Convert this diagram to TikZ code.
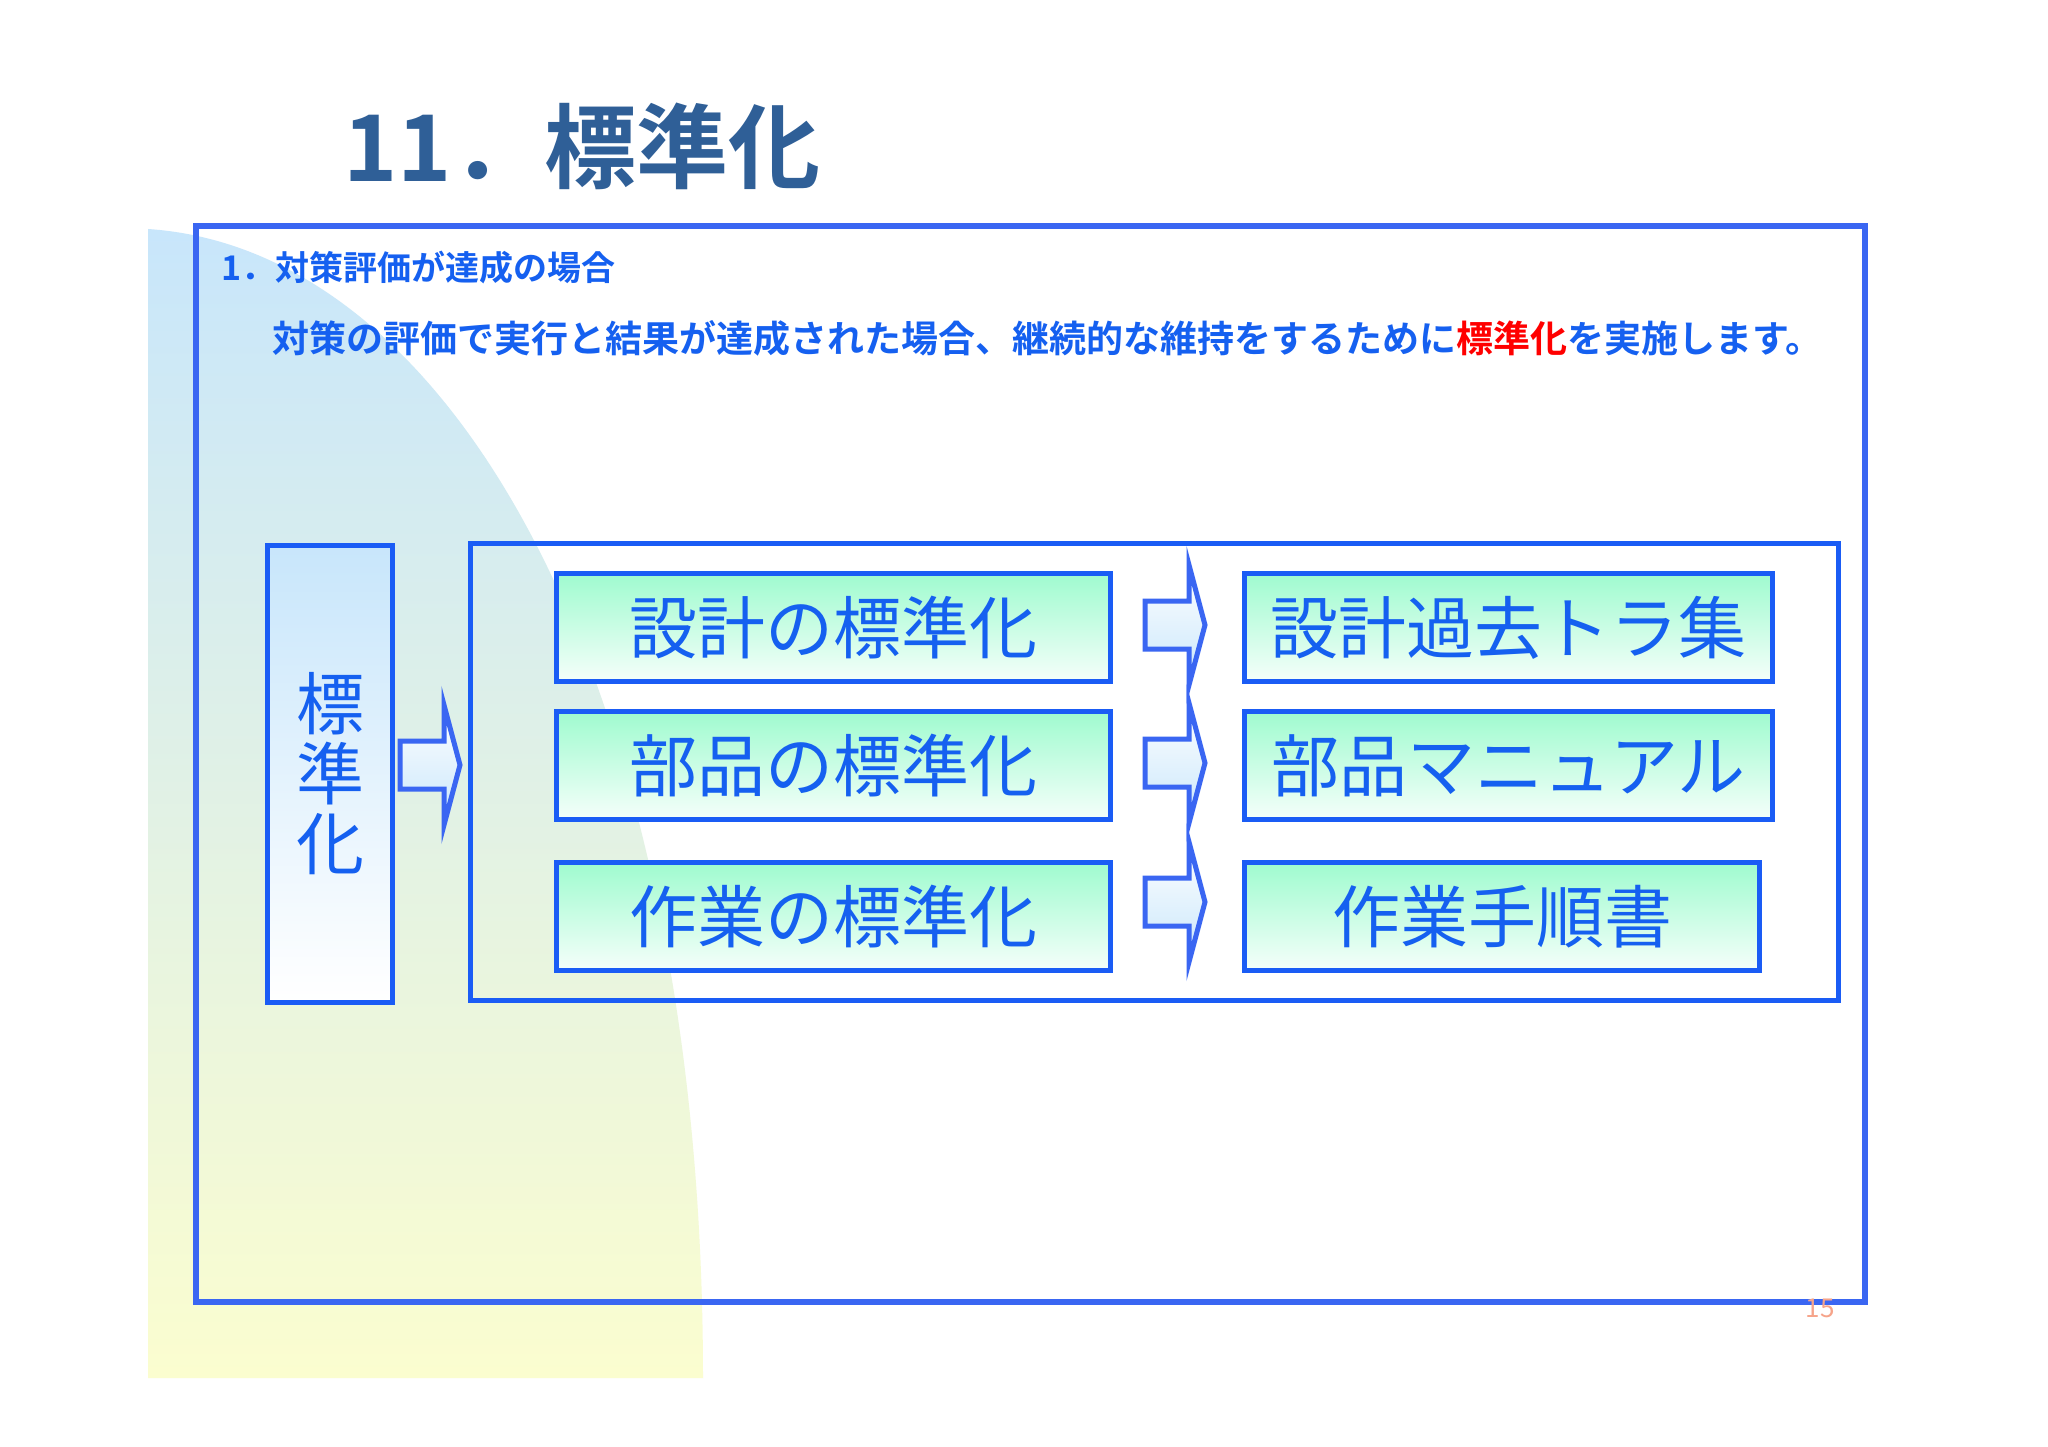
\documentclass[tikz,border=0pt]{standalone}
\usepackage{fontspec}
\setmainfont{Noto Sans CJK JP}
\newfontfamily\jpb{Noto Sans CJK JP Bold}
\newfontfamily\jpr{Noto Sans CJK JP}
\definecolor{titlec}{HTML}{2F5F97}
\definecolor{framec}{HTML}{3A66F2}
\definecolor{boxc}{HTML}{1A5CF5}
\definecolor{txtc}{HTML}{1560F0}
\definecolor{bgblue}{HTML}{C8E6FB}
\definecolor{bgyel}{HTML}{FBFDCF}
\definecolor{mint}{HTML}{9FFBCF}
\definecolor{pgc}{HTML}{F6A48A}
\tikzset{
  stdbox/.style={draw=boxc,line width=5pt,top color=mint,bottom color=white!90!mint,inner sep=0pt,anchor=north west},
  stdtxt/.style={font=\jpr\fontsize{68}{68}\selectfont,text=txtc},
  barrow/.style={draw=framec,line width=5pt,top color=white,bottom color=bgblue,line join=miter}
}
\newcommand{\blockarrow}[3]{% x, yc, name
  \draw[barrow] (#1,#2-24) -- (#1+44,#2-24) -- (#1+44,#2-60) -- (#1+60,#2) -- (#1+44,#2+60) -- (#1+44,#2+24) -- (#1,#2+24) -- cycle;
}
\begin{document}
\begin{tikzpicture}[x=1pt,y=-1pt]
\useasboundingbox (0,0) rectangle (2048,1447);
\fill[white] (0,0) rectangle (2048,1447);
\shade[top color=bgblue,bottom color=bgyel] (148,229) .. controls (460,250) and (703,700) .. (703,1378) -- (148,1378) -- cycle;
\node[anchor=west,font=\jpb\fontsize{92}{92}\selectfont,text=titlec] (title) at (340,146) {11．標準化};
\draw[framec,line width=6pt] (196,226) rectangle (1865,1302);
\node[anchor=west,font=\jpb\fontsize{34}{34}\selectfont,text=txtc] (h1) at (218,268) {1．対策評価が達成の場合};
\node[anchor=west,font=\jpb\fontsize{37}{37}\selectfont,text=txtc,inner sep=0pt] (h2) at (272,338) {対策の評価で実行と結果が達成された場合、継続的な維持をするために\textcolor{red}{標準化}を実施します。};
\node[stdbox,top color=bgblue,bottom color=white,minimum width=125pt,minimum height=457pt] (lb) at (265,543) {};
\node[font=\jpr\fontsize{68}{70}\selectfont,text=txtc,align=center] (lt) at (lb.center) {標\\準\\化};
\blockarrow{400}{765}{a0}
\draw[boxc,line width=5pt] (470,543) rectangle (1838,1000);
\node[stdbox,minimum width=554pt,minimum height=108pt] (b1) at (554,571) {};
\node[stdbox,minimum width=554pt,minimum height=108pt] (b2) at (554,709) {};
\node[stdbox,minimum width=554pt,minimum height=108pt] (b3) at (554,860) {};
\node[stdbox,minimum width=528pt,minimum height=108pt] (c1) at (1242,571) {};
\node[stdbox,minimum width=528pt,minimum height=108pt] (c2) at (1242,709) {};
\node[stdbox,minimum width=515pt,minimum height=108pt] (c3) at (1242,860) {};
\node[stdtxt] at (b1.center) {設計の標準化};
\node[stdtxt] at (b2.center) {部品の標準化};
\node[stdtxt] at (b3.center) {作業の標準化};
\node[stdtxt] at (c1.center) {設計過去トラ集};
\node[stdtxt] at (c2.center) {部品マニュアル};
\node[stdtxt] at (c3.center) {作業手順書};
\blockarrow{1145}{625}{a1}
\blockarrow{1145}{763}{a2}
\blockarrow{1145}{902}{a3}
\node[font=\fontsize{26}{26}\selectfont,text=pgc] (pg) at (1820,1308) {15};
\end{tikzpicture}
\end{document}
